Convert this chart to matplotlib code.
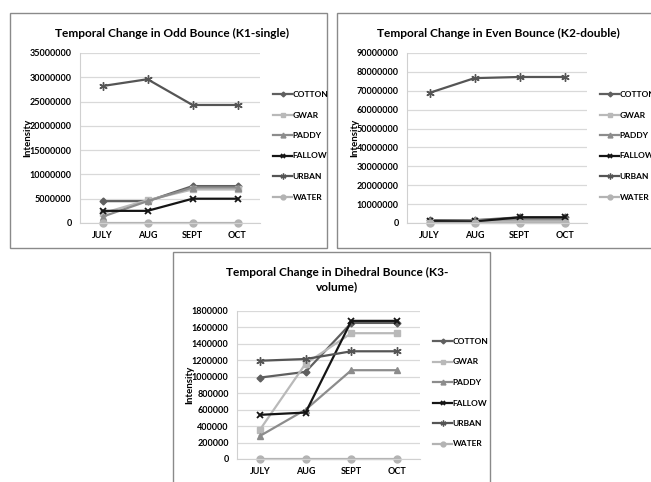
import numpy as np
import matplotlib
matplotlib.use("Agg")
import matplotlib.pyplot as plt
from matplotlib.patches import Rectangle
from matplotlib.ticker import MultipleLocator, FuncFormatter

plt.rcParams['font.family'] = ['Lato', 'DejaVu Sans']
plt.rcParams['font.weight'] = 'bold'

W, H = 651, 482

months = ["JULY", "AUG", "SEPT", "OCT"]
classes = ["COTTON", "GWAR", "PADDY", "FALLOW", "URBAN", "WATER"]

# K1 - single (odd bounce)
k1_cotton = [4.5e6, 4.5e6, 7.6e6, 7.6e6]
k1_gwar = [2.0e6, 4.7e6, 6.9e6, 6.9e6]
k1_paddy = [1.3e6, 4.5e6, 7.3e6, 7.3e6]
k1_fallow = [2.5e6, 2.5e6, 5.0e6, 5.0e6]
k1_urban = [28.2e6, 29.6e6, 24.3e6, 24.3e6]
k1_water = [0.05e6, 0.05e6, 0.05e6, 0.05e6]

# K2 - double (even bounce)
k2_cotton = [1.5e6, 1.5e6, 3.0e6, 3.0e6]
k2_gwar = [0.5e6, 0.5e6, 1.0e6, 1.0e6]
k2_paddy = [1.0e6, 1.5e6, 2.0e6, 2.0e6]
k2_fallow = [1.0e6, 0.8e6, 3.0e6, 3.0e6]
k2_urban = [68.9e6, 76.7e6, 77.3e6, 77.3e6]
k2_water = [0.1e6, 0.1e6, 0.1e6, 0.1e6]

# K3 - volume (dihedral bounce)
k3_cotton = [0.99e6, 1.06e6, 1.655e6, 1.655e6]
k3_gwar = [0.355e6, 1.16e6, 1.53e6, 1.53e6]
k3_paddy = [0.28e6, 0.60e6, 1.08e6, 1.08e6]
k3_fallow = [0.537e6, 0.565e6, 1.68e6, 1.68e6]
k3_urban = [1.195e6, 1.216e6, 1.31e6, 1.31e6]
k3_water = [0, 0, 0, 0]

styles = {
    "COTTON": dict(color="#5f5f5f", marker="D", ms=3.5),
    "GWAR": dict(color="#b9b9b9", marker="s", ms=5),
    "PADDY": dict(color="#8c8c8c", marker="^", ms=5),
    "FALLOW": dict(color="#151515", marker="x", ms=5, mew=1.3),
    "URBAN": dict(color="#555555", marker=(6, 2, 0), ms=6, mew=1.0),
    "WATER": dict(color="#b3b3b3", marker="o", ms=5),
}


def px_box(x0, y0, x1, y1):
    return [x0 / W, 1 - y1 / H, (x1 - x0) / W, (y1 - y0) / H]


fig = plt.figure(figsize=(W / 100, H / 100), dpi=100)

# panel frames
for (x0, y0, x1, y1) in [(10, 13, 327, 248), (337, 13, 665, 248), (173, 252, 490, 495)]:
    fig.patches.append(Rectangle((x0 / W, 1 - y1 / H), (x1 - x0) / W, (y1 - y0) / H,
                                 transform=fig.transFigure, fill=False,
                                 edgecolor="#8a8a8a", lw=1.0))


def panel(box, series, ymax, ystep, title, title_xy, ylab_x, leg_xy):
    ax = fig.add_axes(px_box(*box))
    x = np.arange(len(months))
    for name, vals in zip(classes, series):
        st = styles[name]
        ax.plot(x, vals, color=st["color"], lw=1.6, marker=st["marker"],
                ms=st["ms"], mew=st.get("mew", 1.0), mfc=st["color"],
                mec=st["color"], label=name, clip_on=False)
    ax.set_xlim(-0.5, 3.5)
    ax.set_ylim(0, ymax)
    ax.yaxis.set_major_locator(MultipleLocator(ystep))
    ax.yaxis.set_major_formatter(FuncFormatter(lambda v, p: "%d" % round(v)))
    ax.set_xticks(x)
    ax.set_xticklabels(months)
    ax.tick_params(length=0, labelsize=6.5, pad=6)
    ax.grid(axis="y", color="#d9d9d9", lw=0.9)
    ax.set_axisbelow(True)
    for s in ["top", "right"]:
        ax.spines[s].set_visible(False)
    for s in ["left", "bottom"]:
        ax.spines[s].set_color("#d0d0d0")
    fig.text(title_xy[0] / W, 1 - title_xy[1] / H, title, ha="center", va="center",
             fontsize=8.6, fontweight="bold", linespacing=1.35)
    fig.text(ylab_x / W, 1 - (box[1] + box[3]) / 2 / H, "Intensity", rotation=90,
             ha="center", va="center", fontsize=7, fontweight="bold")
    fig.legend(*ax.get_legend_handles_labels(), loc="upper left",
               bbox_to_anchor=(leg_xy[0] / W, 1 - leg_xy[1] / H),
               frameon=False, fontsize=6, handlelength=2.3, handletextpad=0.05,
               labelspacing=1.62, borderaxespad=0, borderpad=0, markerscale=0.7)
    return ax


panel((80, 53, 260, 223),
      [k1_cotton, k1_gwar, k1_paddy, k1_fallow, k1_urban, k1_water],
      35e6, 5e6, "Temporal Change in Odd Bounce (K1-single)", (172, 33), 28, (273, 91))
panel((407, 53, 587, 223),
      [k2_cotton, k2_gwar, k2_paddy, k2_fallow, k2_urban, k2_water],
      90e6, 10e6, "Temporal Change in Even Bounce (K2-double)", (498, 33), 355, (600, 91))
panel((237, 311, 420, 459),
      [k3_cotton, k3_gwar, k3_paddy, k3_fallow, k3_urban, k3_water],
      1.8e6, 2e5, "Temporal Change in Dihedral Bounce (K3-\nvolume)", (337, 280), 190, (433, 338))

fig.savefig("out.png", dpi=100)
